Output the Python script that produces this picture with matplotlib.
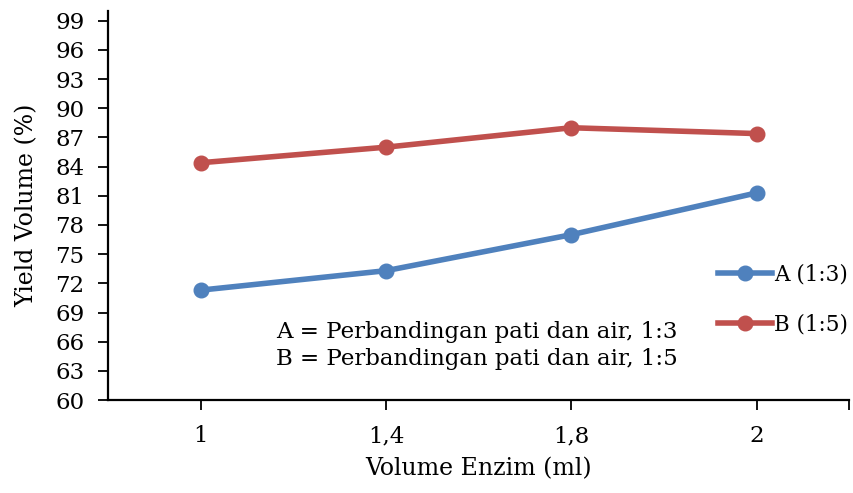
import matplotlib.pyplot as plt

# Yield volume for two starch:water ratios across enzyme volumes
volume_labels = ["1", "1,4", "1,8", "2"]
yield_a = [71.3, 73.3, 77.0, 81.3]
yield_b = [84.4, 86.0, 88.0, 87.4]
series_names = ["A (1:3)", "B (1:5)"]
y_ticks = list(range(60, 100, 3))

plt.rcParams["font.family"] = ["DejaVu Serif"]

fig = plt.figure(figsize=(8.54, 4.93), dpi=100)
ax = fig.add_axes([0.1265, 0.1886, 0.868, 0.789])

x = range(len(volume_labels))
ax.plot(x, yield_a, color="#4F81BD", lw=4, marker="o", ms=10.5, label=series_names[0])
ax.plot(x, yield_b, color="#C0504D", lw=4, marker="o", ms=10.5, label=series_names[1])

ax.set_xlim(-0.5, 3.5)
ax.set_ylim(60, 100)
ax.set_yticks(y_ticks)
ax.set_xticks(list(x))
ax.set_xticklabels(volume_labels)
ax.set_xticks([3.5], minor=True)

for side in ["top", "right"]:
    ax.spines[side].set_visible(False)
for side in ["left", "bottom"]:
    ax.spines[side].set_linewidth(1.6)

ax.tick_params(axis="both", which="both", labelsize=16.5, width=1.3, length=7, color="black")
ax.tick_params(axis="x", pad=11)
ax.tick_params(axis="y", pad=10)

ax.set_xlabel("Volume Enzim (ml)", fontsize=17, labelpad=7)
ax.set_ylabel("Yield Volume (%)", fontsize=17, labelpad=12)

ax.text(0.497, 0.141, "A = Perbandingan pati dan air, 1:3\nB = Perbandingan pati dan air, 1:5",
        transform=ax.transAxes, ha="center", va="center", fontsize=16.5, linespacing=1.3)

ax.legend(loc="upper left", bbox_to_anchor=(0.831, 0.482), bbox_transform=fig.transFigure,
          frameon=False, fontsize=15.5, handlelength=2.5, handletextpad=0.1,
          labelspacing=1.3, borderaxespad=0)

fig.savefig("out.png", dpi=100)
